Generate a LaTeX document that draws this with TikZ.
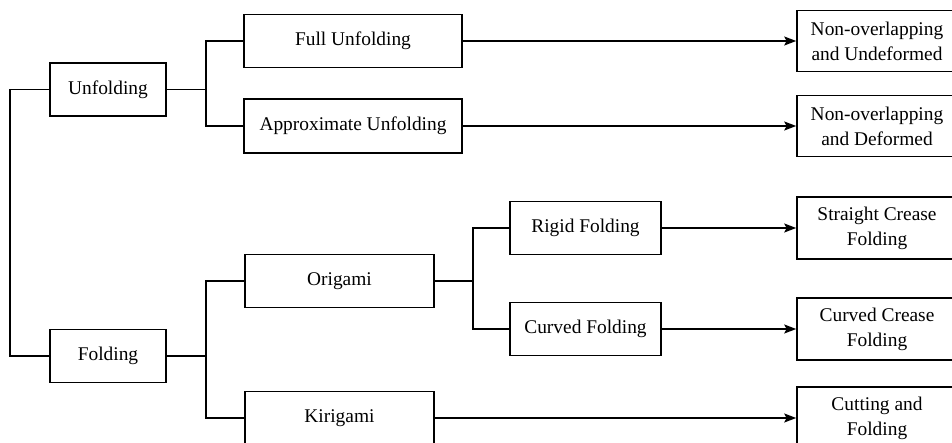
\documentclass[tikz,border=0pt]{standalone}
\usepackage{fontspec}
\setmainfont{Liberation Serif}
\usetikzlibrary{arrows.meta}

\begin{document}
\begin{tikzpicture}[x=0.5pt,y=-0.5pt,
 font=\fontsize{9.7}{12.5}\selectfont,
 st/.style={draw,line width=0.8pt,minimum height=26.5pt,align=center,inner sep=2pt},
 ln/.style={line width=0.8pt},
 ar/.style={-{Stealth[length=6pt,width=4.5pt,inset=1.2pt]},line width=0.8pt}]
\useasboundingbox (0,0) rectangle (952,443);
\clip (0,0) rectangle (952,443);
% first level
\node[st,minimum width=58pt] (unf) at (108,89.5) {Unfolding};
\node[st,minimum width=58pt] (fol) at (108,356) {Folding};
% second level
\node[st,minimum width=109pt] (full) at (353,41) {Full Unfolding};
\node[st,minimum width=109pt,minimum height=27pt] (apx) at (353,126) {Approximate Unfolding};
\node[st,minimum width=94.5pt] (ori) at (339.5,281) {Origami};
\node[st,minimum width=94.5pt] (kir) at (339.5,418) {Kirigami};
% third level
\node[st,minimum width=75.5pt] (rig) at (585.5,228) {Rigid Folding};
\node[st,minimum width=75.5pt] (cur) at (585.5,329) {Curved Folding};
% results
\node[st,minimum width=80pt,minimum height=30.5pt] (nud) at (877,41) {Non-overlapping\\and Undeformed};
\node[st,minimum width=80pt,minimum height=30.5pt] (nd) at (877,126) {Non-overlapping\\and Deformed};
\node[st,minimum width=80pt,minimum height=31pt] (sc) at (877,228) {Straight Crease\\Folding};
\node[st,minimum width=80pt,minimum height=31pt] (cc) at (877,329) {Curved Crease\\Folding};
\node[st,minimum width=80pt,minimum height=31pt] (cf) at (877,418) {Cutting and\\Folding};
% tree lines
\draw[ln] (unf.west) -- ++(-39,0) |- (fol.west);
\draw[ln] (unf.east) -- ++(39,0) coordinate (ub);
\draw[ln] (full.west) -| (ub) |- (apx.west);
\draw[ln] (fol.east) -- ++(39,0) coordinate (fb);
\draw[ln] (ori.west) -| (fb) |- (kir.west);
\draw[ln] (ori.east) -- ++(38,0) coordinate (ob);
\draw[ln] (rig.west) -| (ob) |- (cur.west);
% arrows to results
\draw[ar] (full) -- (nud);
\draw[ar] (apx) -- (nd);
\draw[ar] (rig) -- (sc);
\draw[ar] (cur) -- (cc);
\draw[ar] (kir) -- (cf);
\end{tikzpicture}
\end{document}
